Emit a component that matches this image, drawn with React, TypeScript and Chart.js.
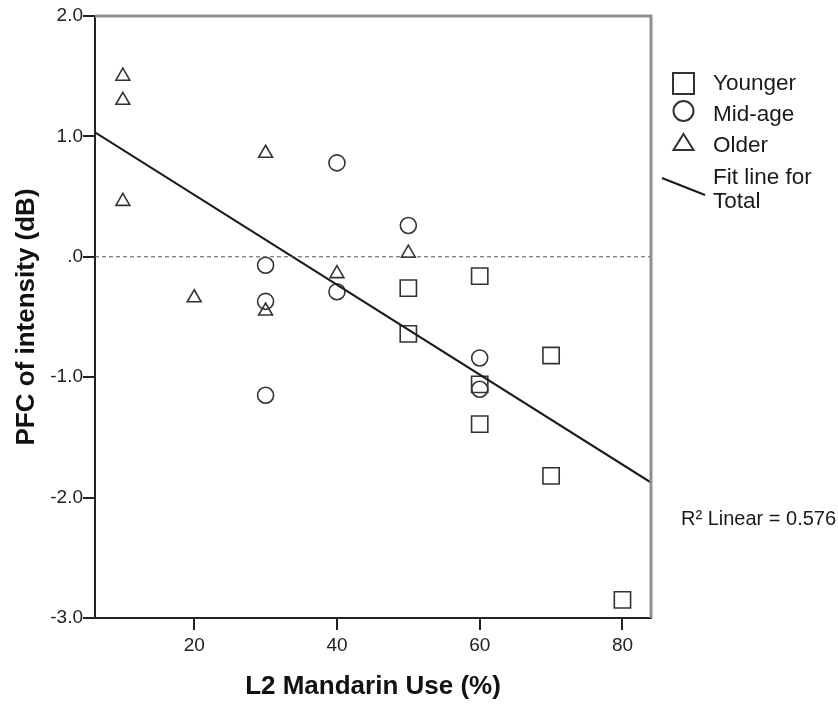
import React, { useEffect, useRef } from "react";
import { Chart, registerables } from "chart.js";

Chart.register(...registerables);

// ---- data ----
const seriesLabels = ["Younger", "Mid-age", "Older"];
const youngerX = [60, 50, 50, 70, 60, 60, 70, 80];
const youngerY = [-0.16, -0.26, -0.64, -0.82, -1.06, -1.39, -1.82, -2.85];
const midX = [40, 50, 30, 30, 40, 60, 60, 30];
const midY = [0.78, 0.26, -0.07, -0.37, -0.29, -0.84, -1.1, -1.15];
const olderX = [10, 10, 10, 30, 20, 30, 40, 50];
const olderY = [1.5, 1.3, 0.46, 0.86, -0.34, -0.45, -0.14, 0.03];
const xTicks = [20, 40, 60, 80];
const yTicks = [-3, -2, -1, 0, 1, 2];
const xRange = [6.1, 84];
const yRange = [-3, 2];
const fitLabel = ["Fit line for", "Total"];
const r2Label = "R\u00B2 Linear = 0.576";
const xTitle = "L2 Mandarin Use (%)";
const yTitle = "PFC of intensity (dB)";

const FONT = "'Liberation Sans', Arial, sans-serif";
const MARK = "#333333";

function pts(xs: number[], ys: number[]) {
  return xs.map((x, i) => ({ x, y: ys[i] }));
}

function fit(xs: number[], ys: number[]) {
  const n = xs.length;
  const mx = xs.reduce((a, b) => a + b, 0) / n;
  const my = ys.reduce((a, b) => a + b, 0) / n;
  let sxy = 0;
  let sxx = 0;
  for (let i = 0; i < n; i++) {
    sxy += (xs[i] - mx) * (ys[i] - my);
    sxx += (xs[i] - mx) * (xs[i] - mx);
  }
  const b = sxy / sxx;
  return { a: my - b * mx, b };
}

const frameAndLegend = {
  id: "frameAndLegend",
  afterDraw(chart: any) {
    const { ctx, chartArea } = chart;
    const { left, top, right, bottom } = chartArea;
    ctx.save();
    // top & right frame
    ctx.strokeStyle = "#8f8f8f";
    ctx.lineWidth = 3;
    ctx.beginPath();
    ctx.moveTo(left, top);
    ctx.lineTo(right, top);
    ctx.lineTo(right, bottom);
    ctx.stroke();

    // legend
    const tx = 713;
    ctx.fillStyle = "#1a1a1a";
    ctx.font = `22.5px ${FONT}`;
    ctx.textBaseline = "middle";
    ctx.textAlign = "left";
    const rows = [84, 115, 146];
    ctx.strokeStyle = MARK;
    ctx.lineWidth = 2;
    // square
    ctx.strokeRect(673, 73, 21, 21);
    // circle
    ctx.beginPath();
    ctx.arc(683.5, 111, 10, 0, Math.PI * 2);
    ctx.stroke();
    // triangle
    ctx.beginPath();
    ctx.moveTo(683.5, 134);
    ctx.lineTo(693.5, 150);
    ctx.lineTo(673.5, 150);
    ctx.closePath();
    ctx.stroke();
    seriesLabels.forEach((l, i) => ctx.fillText(l, tx, rows[i]));
    // fit line sample
    ctx.strokeStyle = "#1a1a1a";
    ctx.lineWidth = 2;
    ctx.beginPath();
    ctx.moveTo(662, 178);
    ctx.lineTo(705, 195);
    ctx.stroke();
    ctx.fillText(fitLabel[0], tx, 178);
    ctx.fillText(fitLabel[1], tx, 202);

    // R2 label
    ctx.font = `20px ${FONT}`;
    ctx.fillText(r2Label, 681, 519);
    ctx.restore();
  },
};

export default function App() {
  const ref = useRef<HTMLCanvasElement | null>(null);

  useEffect(() => {
    document.body.style.margin = "0";
    if (!ref.current) return;
    const allX = [...youngerX, ...midX, ...olderX];
    const allY = [...youngerY, ...midY, ...olderY];
    const { a, b } = fit(allX, allY);
    const fitPts = xRange.map((x) => ({ x, y: a + b * x }));
    const zeroPts = xRange.map((x) => ({ x, y: 0 }));

    const markerBase = {
      backgroundColor: "rgba(0,0,0,0)",
      borderColor: MARK,
      borderWidth: 1.6,
      showLine: false,
    };

    const chart = new Chart(ref.current, {
      type: "scatter",
      data: {
        datasets: [
          {
            label: "zero",
            data: zeroPts,
            showLine: true,
            borderColor: "#555555",
            borderWidth: 1,
            borderDash: [4, 3],
            pointRadius: 0,
          },
          {
            label: "Fit line for Total",
            data: fitPts,
            showLine: true,
            borderColor: "#1a1a1a",
            borderWidth: 2,
            pointRadius: 0,
          },
          {
            ...markerBase,
            label: seriesLabels[0],
            data: pts(youngerX, youngerY),
            pointStyle: "rect",
            pointRadius: 11.5,
          },
          {
            ...markerBase,
            label: seriesLabels[1],
            data: pts(midX, midY),
            pointStyle: "circle",
            pointRadius: 8,
          },
          {
            ...markerBase,
            label: seriesLabels[2],
            data: pts(olderX, olderY),
            pointStyle: "triangle",
            pointRadius: 8,
          },
        ] as any,
      },
      options: {
        responsive: false,
        animation: false,
        devicePixelRatio: 1,
        layout: { padding: { left: 0, top: 16, right: 187, bottom: 0 } },
        plugins: {
          legend: { display: false },
          tooltip: { enabled: false },
        },
        scales: {
          x: {
            type: "linear",
            min: xRange[0],
            max: xRange[1],
            afterBuildTicks: (s: any) => {
              s.ticks = xTicks.map((v) => ({ value: v }));
            },
            afterFit: (s: any) => {
              s.height = 86;
            },
            grid: {
              drawOnChartArea: false,
              drawTicks: true,
              tickLength: 12,
              color: "#222222",
              lineWidth: 2,
            },
            border: { display: true, color: "#222222", width: 2 },
            ticks: {
              padding: 4,
              color: "#222222",
              font: { family: FONT, size: 19 },
              callback: (v: any) => String(v),
            },
            title: {
              display: true,
              text: xTitle,
              color: "#111111",
              font: { family: FONT, size: 26, weight: "bold" },
              padding: { top: 0, bottom: 2 },
            },
          },
          y: {
            type: "linear",
            min: yRange[0],
            max: yRange[1],
            afterBuildTicks: (s: any) => {
              s.ticks = yTicks.map((v) => ({ value: v }));
            },
            afterFit: (s: any) => {
              s.width = 95;
            },
            grid: {
              drawOnChartArea: false,
              drawTicks: true,
              tickLength: 12,
              color: "#222222",
              lineWidth: 2,
            },
            border: { display: true, color: "#222222", width: 2 },
            ticks: {
              padding: 0,
              color: "#222222",
              font: { family: FONT, size: 19 },
              callback: (v: any) => (v === 0 ? ".0" : Number(v).toFixed(1)),
            },
            title: {
              display: true,
              text: yTitle,
              color: "#111111",
              font: { family: FONT, size: 26, weight: "bold" },
              padding: { top: 11, bottom: 0 },
            },
          },
        },
      },
      plugins: [frameAndLegend],
    });
    return () => chart.destroy();
  }, []);

  return (
    <div style={{ width: 838, height: 704 }}>
      <canvas ref={ref} width={838} height={704} />
    </div>
  );
}
